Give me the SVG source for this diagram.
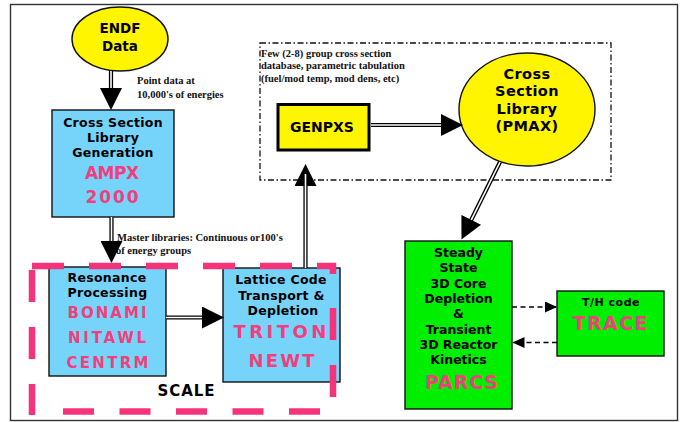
<svg xmlns="http://www.w3.org/2000/svg" width="682" height="422" viewBox="0 0 682 422">
<defs>
<marker id="head" markerUnits="userSpaceOnUse" markerWidth="22" markerHeight="22" viewBox="0 0 22 22" refX="6" refY="11" orient="auto"><path d="M0,0 L22,11 L0,22 Z" fill="#000"/></marker>
<marker id="head-small" markerUnits="userSpaceOnUse" markerWidth="12" markerHeight="11" viewBox="0 0 12 11" refX="11" refY="5.5" orient="auto"><path d="M0,0 L12,5.5 L0,11 Z" fill="#000"/></marker>
<style>
.t{font-family:"DejaVu Sans","Verdana",sans-serif;font-weight:bold;font-size:12.5px;fill:#000;text-anchor:middle}
.code{font-family:"DejaVu Sans","Verdana",sans-serif;font-weight:bold;fill:#f03f7c;text-anchor:middle}
.note{font-family:"Liberation Serif","Times New Roman",serif;font-weight:bold;font-size:10.5px;fill:#111}
.blue{fill:#76d4fa;stroke:#111;stroke-width:1.4}
.green{fill:#00ee00;stroke:#111;stroke-width:1.4}
.yellow{fill:#fff500;stroke:#111;stroke-width:1.4}
.dbl-out{fill:none;stroke:#000;stroke-width:4.2}
.dbl-in{fill:none;stroke:#fff;stroke-width:1.6}
.dash-conn{fill:none;stroke:#000;stroke-width:1.3;stroke-dasharray:5 3.5}
.scale-line{stroke:#f5337a;stroke-width:6.5;fill:none;stroke-dasharray:32 25}
</style>
</defs>
<rect x="0" y="0" width="682" height="422" fill="#fff"/>
<rect id="frame" x="10.5" y="4.5" width="667" height="416" fill="#fff" stroke="#333" stroke-width="1.4"/>

<g id="xs-database-region">
<rect x="260" y="43" width="351" height="137" fill="none" stroke="#111" stroke-width="1.3" stroke-dasharray="6 2.5 1.5 2.5"/>
<text class="note" x="261" y="56.5">Few (2-8) group cross section</text>
<text class="note" x="261" y="69">database, parametric tabulation</text>
<text class="note" x="261" y="81.5">(fuel/mod temp, mod dens, etc)</text>
</g>

<g id="labels">
<text class="note" x="137" y="84">Point data at</text>
<text class="note" x="137" y="97.5">10,000's of energies</text>
<text class="note" x="117" y="241">Master libraries: Continuous or100's</text>
<text class="note" x="116" y="254">of energy groups</text>
</g>

<g id="endf">
<ellipse class="yellow" cx="120" cy="39" rx="48" ry="32"/>
<text class="t" x="120" y="33" style="font-size:13.5px">ENDF</text>
<text class="t" x="120" y="51" style="font-size:13.5px">Data</text>
</g>

<g id="ampx">
<rect class="blue" x="52" y="110" width="122" height="107"/>
<text class="t" x="113" y="127" letter-spacing="0.3">Cross Section</text>
<text class="t" x="113" y="142" letter-spacing="0.3">Library</text>
<text class="t" x="113" y="157" letter-spacing="0.3">Generation</text>
<text class="code" x="112" y="179" font-size="17" textLength="54" lengthAdjust="spacing">AMPX</text>
<text class="code" x="112" y="203" font-size="17" textLength="53" lengthAdjust="spacing">2000</text>
</g>

<g id="resonance">
<rect class="blue" x="49" y="267" width="117" height="109"/>
<text class="t" x="107" y="282" letter-spacing="0.3">Resonance</text>
<text class="t" x="107.5" y="297" letter-spacing="0.3">Processing</text>
<text class="code" x="107" y="318" font-size="15" textLength="79" lengthAdjust="spacing">BONAMI</text>
<text class="code" x="107" y="343" font-size="15" textLength="78" lengthAdjust="spacing">NITAWL</text>
<text class="code" x="107.5" y="368" font-size="15" textLength="82" lengthAdjust="spacing">CENTRM</text>
</g>

<g id="lattice">
<rect class="blue" x="223" y="268" width="117" height="114"/>
<text class="t" x="281" y="284" letter-spacing="0.3">Lattice Code</text>
<text class="t" x="281.5" y="300" letter-spacing="0.3">Transport &amp;</text>
<text class="t" x="283" y="315" letter-spacing="0.3">Depletion</text>
<text class="code" x="285" y="338" font-size="18" textLength="103" lengthAdjust="spacing">TRITON/</text>
<text class="code" x="281.5" y="367" font-size="18" textLength="66" lengthAdjust="spacing">NEWT</text>
</g>

<g id="genpxs">
<rect x="278" y="104.5" width="91" height="45.5" fill="#fff500" stroke="#000" stroke-width="3"/>
<text class="t" x="322" y="132" style="font-size:14px">GENPXS</text>
</g>

<g id="pmax">
<ellipse class="yellow" cx="527" cy="109.5" rx="68" ry="56.5"/>
<text class="t" x="527" y="78.5" style="font-size:14.5px" letter-spacing="0.4">Cross</text>
<text class="t" x="527" y="96" style="font-size:14.5px" letter-spacing="0.4">Section</text>
<text class="t" x="527" y="113.5" style="font-size:14.5px" letter-spacing="0.4">Library</text>
<text class="t" x="527" y="131" style="font-size:14.5px" letter-spacing="0.4">(PMAX)</text>
</g>

<g id="parcs">
<rect class="green" x="405" y="241" width="107" height="168"/>
<text class="t" x="458.5" y="257">Steady</text>
<text class="t" x="458.5" y="272">State</text>
<text class="t" x="458.5" y="287.5">3D Core</text>
<text class="t" x="458.5" y="303">Depletion</text>
<text class="t" x="458.5" y="318">&amp;</text>
<text class="t" x="458.5" y="333.5">Transient</text>
<text class="t" x="458.5" y="349">3D Reactor</text>
<text class="t" x="458.5" y="364">Kinetics</text>
<text class="code" x="461.5" y="388.5" font-size="19" textLength="73" lengthAdjust="spacing">PARCS</text>
</g>

<g id="trace">
<rect class="green" x="557" y="291" width="107" height="65"/>
<text class="t" x="611" y="306" style="font-size:11px" letter-spacing="0.5">T/H code</text>
<text class="code" x="610" y="329.5" font-size="19" textLength="75" lengthAdjust="spacing">TRACE</text>
</g>

<g id="connectors">
<path class="dbl-out" d="M111,71 V94" marker-end="url(#head)"/>
<path class="dbl-in" d="M111,71 V88"/>
<path class="dbl-out" d="M111.5,217 V247" marker-end="url(#head)"/>
<path class="dbl-in" d="M111.5,217 V241"/>
<path class="dbl-out" d="M166,317.5 H208" marker-end="url(#head)"/>
<path class="dbl-in" d="M166,317.5 H202"/>
<path class="dbl-out" d="M305.5,268 V180" marker-end="url(#head)"/>
<path class="dbl-in" d="M305.5,268 V174"/>
<path class="dbl-out" d="M371,125 H447" marker-end="url(#head)"/>
<path class="dbl-in" d="M371,125 H441"/>
<path class="dbl-out" d="M500,162 L468.6,225.2" marker-end="url(#head)"/>
<path class="dbl-in" d="M500,162 L471.3,219.8"/>
<path class="dash-conn" d="M512,307 H556" marker-end="url(#head-small)"/>
<path class="dash-conn" d="M557,342.5 H513.5" marker-end="url(#head-small)"/>
</g>

<g id="scale">
<line class="scale-line" x1="32" y1="266" x2="336" y2="266"/>
<line class="scale-line" x1="333" y1="263" x2="333" y2="274"/>
<line class="scale-line" x1="333" y1="308" x2="333" y2="411"/>
<line class="scale-line" x1="63" y1="411.5" x2="322" y2="411.5" style="stroke-dasharray:31 25.5"/>
<line class="scale-line" x1="32" y1="270" x2="32" y2="415"/>
<text class="t" x="186.5" y="396" style="font-size:15px" letter-spacing="1">SCALE</text>
</g>
</svg>
